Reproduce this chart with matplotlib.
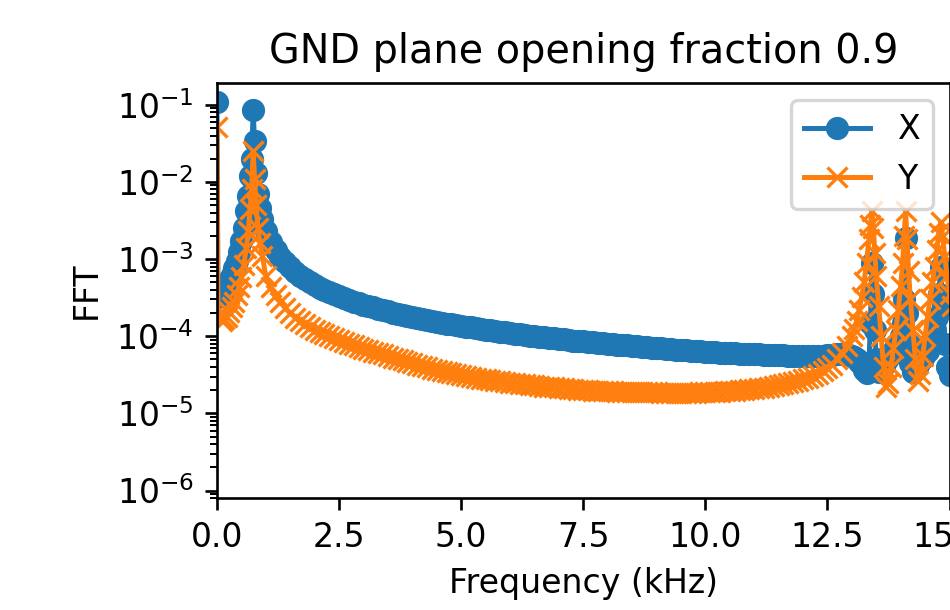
import matplotlib

matplotlib.use("Agg")
import matplotlib.pyplot as plt
from matplotlib.ticker import LogLocator, NullFormatter

# FFT bins (kHz), shared by both channels
FREQ = [0.0, 0.02, 0.06, 0.1, 0.15, 0.2, 0.25, 0.3, 0.35, 0.4, 0.45, 0.5,
        0.55, 0.6, 0.64, 0.68, 0.71, 0.74, 0.77, 0.8, 0.84, 0.88, 0.93,
        1.0, 1.1, 1.2, 1.3, 1.4, 1.5, 1.6, 1.7, 1.8, 1.9,
        2.0, 2.1, 2.2, 2.3, 2.4, 2.5, 2.6, 2.7, 2.8, 2.9,
        3.0, 3.1, 3.2, 3.3, 3.4, 3.5, 3.6, 3.7, 3.8, 3.9,
        4.0, 4.1, 4.2, 4.3, 4.4, 4.5, 4.6, 4.7, 4.8, 4.9,
        5.0, 5.1, 5.2, 5.3, 5.4, 5.5, 5.6, 5.7, 5.8, 5.9,
        6.0, 6.1, 6.2, 6.3, 6.4, 6.5, 6.6, 6.7, 6.8, 6.9,
        7.0, 7.1, 7.2, 7.3, 7.4, 7.5, 7.6, 7.7, 7.8, 7.9,
        8.0, 8.1, 8.2, 8.3, 8.4, 8.5, 8.6, 8.7, 8.8, 8.9,
        9.0, 9.1, 9.2, 9.3, 9.4, 9.5, 9.6, 9.7, 9.8, 9.9,
        10.0, 10.1, 10.2, 10.3, 10.4, 10.5, 10.6, 10.7, 10.8, 10.9,
        11.0, 11.1, 11.2, 11.3, 11.4, 11.5, 11.6, 11.7, 11.8, 11.9,
        12.0, 12.1, 12.2, 12.3, 12.4, 12.5, 12.6,
        12.7, 12.8, 12.9, 13.0, 13.05, 13.1, 13.15, 13.2, 13.25, 13.3,
        13.35, 13.38, 13.41, 13.44, 13.47, 13.5, 13.55, 13.6, 13.65, 13.7,
        13.75, 13.8, 13.85, 13.9, 13.95, 14.0, 14.04, 14.07, 14.1, 14.13,
        14.16, 14.2, 14.25, 14.3, 14.35, 14.4, 14.45, 14.5, 14.55, 14.6,
        14.65, 14.7, 14.74, 14.78, 14.82, 14.86, 14.9, 14.95, 15.0, 15.05]

FFT_X = [0.11, 3.2e-4, 3.4e-4, 3.6e-4, 4.0e-4, 4.6e-4, 5.3e-4, 6.3e-4, 7.6e-4, 9.5e-4, 1.25e-3, 1.7e-3,
         2.5e-3, 4.2e-3, 6.5e-3, 1.2e-2, 2.0e-2, 8.5e-2, 3.4e-2, 1.3e-2, 7.0e-3, 4.6e-3, 3.3e-3,
         2.3e-3, 1.68e-3, 1.32e-3, 1.08e-3, 9.1e-4, 7.9e-4, 6.74e-4, 6.04e-4, 5.47e-4, 5.0e-4,
         4.6e-4, 4.26e-4, 3.97e-4, 3.72e-4, 3.49e-4, 3.3e-4, 3.12e-4, 2.96e-4, 2.82e-4, 2.69e-4,
         2.57e-4, 2.46e-4, 2.36e-4, 2.27e-4, 2.18e-4, 2.1e-4, 2.03e-4, 1.96e-4, 1.9e-4, 1.84e-4,
         1.78e-4, 1.73e-4, 1.68e-4, 1.63e-4, 1.58e-4, 1.54e-4, 1.5e-4, 1.46e-4, 1.43e-4, 1.39e-4,
         1.36e-4, 1.33e-4, 1.3e-4, 1.27e-4, 1.24e-4, 1.22e-4, 1.19e-4, 1.17e-4, 1.15e-4, 1.12e-4,
         1.1e-4, 1.08e-4, 1.06e-4, 1.04e-4, 1.02e-4, 1.0e-4, 9.9e-5, 9.7e-5, 9.6e-5, 9.4e-5,
         9.3e-5, 9.1e-5, 9.0e-5, 8.8e-5, 8.7e-5, 8.6e-5, 8.5e-5, 8.3e-5, 8.2e-5, 8.1e-5,
         8.0e-5, 7.9e-5, 7.8e-5, 7.7e-5, 7.6e-5, 7.5e-5, 7.4e-5, 7.3e-5, 7.2e-5, 7.1e-5,
         7.0e-5, 6.95e-5, 6.9e-5, 6.8e-5, 6.7e-5, 6.65e-5, 6.6e-5, 6.5e-5, 6.45e-5, 6.4e-5,
         6.3e-5, 6.25e-5, 6.2e-5, 6.15e-5, 6.1e-5, 6.05e-5, 6.0e-5, 5.95e-5, 5.9e-5, 5.85e-5,
         5.8e-5, 5.8e-5, 5.75e-5, 5.7e-5, 5.7e-5, 5.65e-5, 5.65e-5, 5.6e-5, 5.6e-5, 5.6e-5,
         5.6e-5, 5.6e-5, 5.6e-5, 5.6e-5, 5.6e-5, 5.65e-5, 5.7e-5,
         5.8e-5, 5.8e-5, 5.8e-5, 5.6e-5, 5.4e-5, 5.1e-5, 4.7e-5, 4.2e-5, 3.7e-5, 3.3e-5,
         4.5e-5, 1.5e-4, 8.9e-4, 3.5e-4, 1.2e-4, 5.0e-5, 3.4e-5, 3.8e-5, 4.3e-5, 4.8e-5,
         5.3e-5, 5.8e-5, 6.4e-5, 7.0e-5, 8.0e-5, 1.0e-4, 1.5e-4, 3.0e-4, 1.86e-3, 2.0e-4,
         8.0e-5, 4.5e-5, 3.4e-5, 3.7e-5, 4.2e-5, 4.8e-5, 5.2e-5, 5.8e-5, 6.5e-5, 7.5e-5,
         9.0e-5, 1.2e-4, 1.8e-4, 3.5e-4, 7.9e-4, 2.5e-4, 8.0e-5, 4.0e-5, 3.1e-5, 3.3e-5]

FFT_Y = [0.052, 1.9e-4, 1.7e-4, 1.6e-4, 1.65e-4, 1.8e-4, 2.05e-4, 2.4e-4, 2.8e-4, 3.4e-4, 4.3e-4, 5.8e-4,
         8.5e-4, 1.4e-3, 2.3e-3, 4.5e-3, 8.0e-3, 2.5e-2, 1.1e-2, 5.0e-3, 2.5e-3, 1.6e-3, 1.1e-3,
         6.0e-4, 4.4e-4, 3.4e-4, 2.8e-4, 2.3e-4, 2.0e-4, 1.75e-4, 1.58e-4, 1.45e-4, 1.32e-4,
         1.22e-4, 1.14e-4, 1.06e-4, 1.0e-4, 9.4e-5, 8.9e-5, 8.4e-5, 8.0e-5, 7.6e-5, 7.25e-5,
         6.9e-5, 6.6e-5, 6.3e-5, 6.05e-5, 5.8e-5, 5.55e-5, 5.3e-5, 5.07e-5, 4.85e-5, 4.65e-5,
         4.45e-5, 4.27e-5, 4.1e-5, 3.95e-5, 3.8e-5, 3.67e-5, 3.55e-5, 3.42e-5, 3.3e-5, 3.2e-5,
         3.1e-5, 3.02e-5, 2.95e-5, 2.88e-5, 2.82e-5, 2.76e-5, 2.7e-5, 2.65e-5, 2.6e-5, 2.55e-5,
         2.5e-5, 2.46e-5, 2.42e-5, 2.38e-5, 2.34e-5, 2.3e-5, 2.27e-5, 2.23e-5, 2.2e-5, 2.17e-5,
         2.14e-5, 2.11e-5, 2.09e-5, 2.06e-5, 2.04e-5, 2.02e-5, 2.0e-5, 1.98e-5, 1.97e-5, 1.95e-5,
         1.94e-5, 1.93e-5, 1.92e-5, 1.91e-5, 1.9e-5, 1.89e-5, 1.89e-5, 1.88e-5, 1.88e-5, 1.87e-5,
         1.87e-5, 1.86e-5, 1.86e-5, 1.86e-5, 1.86e-5, 1.86e-5, 1.86e-5, 1.86e-5, 1.86e-5, 1.87e-5,
         1.87e-5, 1.88e-5, 1.9e-5, 1.91e-5, 1.93e-5, 1.95e-5, 1.97e-5, 2.0e-5, 2.02e-5, 2.05e-5,
         2.08e-5, 2.11e-5, 2.15e-5, 2.2e-5, 2.25e-5, 2.31e-5, 2.38e-5, 2.46e-5, 2.55e-5, 2.66e-5,
         2.78e-5, 2.9e-5, 3.05e-5, 3.25e-5, 3.5e-5, 3.85e-5, 4.3e-5,
         5.0e-5, 6.0e-5, 7.5e-5, 1.0e-4, 1.25e-4, 1.6e-4, 2.2e-4, 3.2e-4, 5.0e-4, 9.0e-4,
         1.8e-3, 2.8e-3, 4.2e-3, 2.5e-3, 1.2e-3, 6.0e-4, 2.5e-4, 1.0e-4, 4.0e-5, 2.2e-5,
         2.5e-5, 4.0e-5, 7.0e-5, 1.2e-4, 2.2e-4, 4.5e-4, 9.0e-4, 2.0e-3, 4.2e-3, 1.8e-3,
         7.0e-4, 3.0e-4, 1.2e-4, 5.0e-5, 2.6e-5, 3.2e-5, 5.5e-5, 1.0e-4, 1.8e-4, 3.0e-4,
         5.0e-4, 8.0e-4, 1.3e-3, 2.2e-3, 3.0e-3, 2.0e-3, 1.1e-3, 6.0e-4, 3.5e-4, 2.5e-4]

DPI = 238.5
fig, ax = plt.subplots(figsize=(950 / DPI, 610 / DPI), dpi=DPI)
fig.subplots_adjust(left=0.2284, right=0.9995, bottom=0.1836, top=0.8634)

ax.semilogy(FREQ, FFT_X, "-o", label="X")
ax.semilogy(FREQ, FFT_Y, "-x", label="Y")

ax.set_xlim(0, 15)
ax.set_ylim(8.0e-7, 0.19)
ax.yaxis.set_major_locator(LogLocator(base=10, numticks=20))
ax.yaxis.set_minor_locator(LogLocator(base=10, subs=(2, 3, 4, 5, 6, 7, 8, 9), numticks=20))
ax.yaxis.set_minor_formatter(NullFormatter())
ax.set_title("GND plane opening fraction 0.9")
ax.set_xlabel("Frequency (kHz)")
ax.set_ylabel("FFT")
ax.legend(loc="upper right")

fig.savefig("out.png", dpi=DPI)
